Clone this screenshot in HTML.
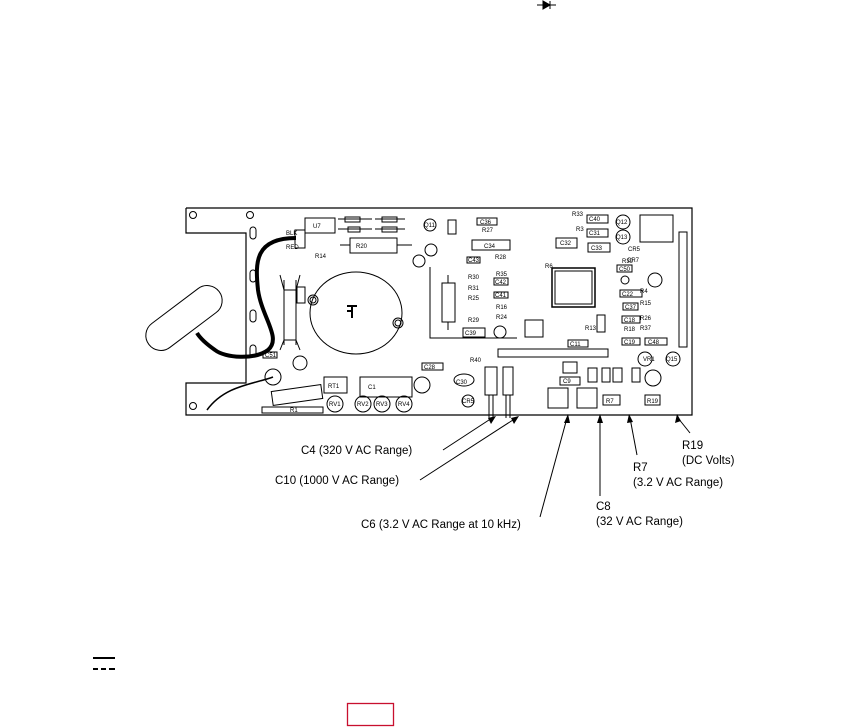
<!DOCTYPE html>
<html><head><meta charset="utf-8"><style>
html,body{margin:0;padding:0;background:#fff;}
svg{display:block;}
text{font-family:"Liberation Sans",Arial,sans-serif;}
</style></head><body>
<svg width="861" height="727" viewBox="0 0 861 727" xmlns="http://www.w3.org/2000/svg">
<rect width="861" height="727" fill="#fff"/>
<g stroke="#000" stroke-width="1" fill="#000">
<line x1="537" y1="5" x2="556" y2="5"/><polygon points="543,1 543,9 550,5"/><line x1="550" y1="1" x2="550" y2="9"/>
</g>
<g fill="none" stroke="#000" stroke-width="1.2">
<polyline points="186,208 692,208 692,415 186,415 186,383 246,383 246,233 186,233 186,208"/>
</g>
<g fill="none" stroke="#000" stroke-width="1">
<circle cx="193" cy="215" r="3.5"/><circle cx="250" cy="215" r="3.5"/><circle cx="193" cy="406" r="3.5"/>
<rect x="250" y="227" width="6" height="12" rx="3"/><rect x="250" y="270" width="6" height="12" rx="3"/><rect x="250" y="310" width="6" height="12" rx="3"/><rect x="250" y="345" width="6" height="12" rx="3"/>
<rect x="305" y="218" width="30" height="15"/>
<rect x="295" y="230" width="10" height="18"/>
<rect x="345" y="217" width="15" height="5"/><rect x="348" y="227" width="12" height="5"/>
<rect x="382" y="217" width="15" height="5"/><rect x="382" y="227" width="15" height="5"/>
<line x1="338" y1="219" x2="372" y2="219"/><line x1="338" y1="229" x2="372" y2="229"/>
<line x1="375" y1="219" x2="405" y2="219"/><line x1="375" y1="229" x2="405" y2="229"/>
<rect x="350" y="238" width="47" height="15"/><line x1="340" y1="245" x2="350" y2="245"/><line x1="397" y1="245" x2="412" y2="245"/>
<circle cx="430" cy="225" r="6"/><rect x="448" y="220" width="8" height="14"/>
<circle cx="431" cy="250" r="6"/><circle cx="419" cy="261" r="6"/>
<rect x="477" y="218" width="20" height="7"/><rect x="472" y="240" width="38" height="10"/>
<rect x="467" y="257" width="13" height="6"/><rect x="494" y="278" width="14" height="7"/><rect x="494" y="292" width="14" height="6"/>
<rect x="463" y="328" width="22" height="9"/><circle cx="500" cy="332" r="6"/><rect x="525" y="320" width="18" height="17"/>
<polyline points="430,267 430,338 517,338"/>
<rect x="442" y="283" width="13" height="39"/><line x1="448" y1="275" x2="448" y2="283"/><line x1="448" y1="322" x2="448" y2="330"/>
<rect x="552" y="268" width="43" height="39" stroke-width="1.5"/><rect x="555" y="271" width="37" height="33"/>
<rect x="587" y="215" width="21" height="8"/><rect x="587" y="229" width="21" height="8"/><rect x="556" y="238" width="21" height="10"/><rect x="588" y="243" width="22" height="9"/>
<circle cx="623" cy="222" r="7"/><circle cx="623" cy="237" r="7"/>
<rect x="640" y="215" width="33" height="27"/>
<rect x="679" y="232" width="8" height="115"/>
<rect x="617" y="265" width="15" height="7"/><circle cx="625" cy="280" r="4"/><circle cx="655" cy="280" r="7"/>
<rect x="620" y="290" width="22" height="7"/><rect x="623" y="303" width="15" height="7"/><rect x="622" y="316" width="18" height="7"/>
<rect x="622" y="338" width="18" height="7"/><rect x="645" y="338" width="22" height="7"/>
<rect x="597" y="315" width="8" height="17"/><rect x="568" y="340" width="20" height="7"/>
<rect x="498" y="349" width="110" height="8"/>
<rect x="563" y="362" width="14" height="11"/><rect x="560" y="377" width="20" height="8"/>
<rect x="548" y="388" width="20" height="20"/><rect x="577" y="388" width="20" height="20"/>
<rect x="603" y="395" width="17" height="10"/><rect x="645" y="395" width="15" height="10"/>
<rect x="588" y="368" width="9" height="14"/><rect x="602" y="368" width="8" height="14"/><rect x="613" y="368" width="9" height="14"/><rect x="632" y="368" width="8" height="14"/>
<circle cx="653" cy="378" r="8"/><circle cx="645" cy="359" r="7"/><circle cx="673" cy="359" r="7"/>
<rect x="485" y="367" width="12" height="28"/><rect x="503" y="367" width="10" height="28"/>
<line x1="489" y1="395" x2="489" y2="418"/><line x1="493" y1="395" x2="493" y2="418"/>
<line x1="506" y1="395" x2="506" y2="418"/><line x1="510" y1="395" x2="510" y2="418"/>
<ellipse cx="464" cy="380" rx="10" ry="6"/><circle cx="468" cy="401" r="6"/>
<rect x="422" y="363" width="21" height="7"/>
<rect x="360" y="377" width="52" height="20"/><circle cx="422" cy="385" r="8"/>
<circle cx="335" cy="404" r="8"/><circle cx="363" cy="404" r="8"/><circle cx="382" cy="404" r="8"/><circle cx="404" cy="404" r="8"/>
<rect x="324" y="377" width="23" height="16"/>
<rect x="272" y="388" width="50" height="14" transform="rotate(-8 297 395)"/>
<rect x="262" y="407" width="61" height="6"/>
<circle cx="300" cy="363" r="7"/><circle cx="273" cy="377" r="8"/>
<rect x="263" y="352" width="14" height="6"/><rect x="297" y="287" width="8" height="16"/>
<line x1="284" y1="280" x2="284" y2="345"/><line x1="296" y1="280" x2="296" y2="345"/>
<line x1="284" y1="290" x2="296" y2="290"/><line x1="284" y1="340" x2="296" y2="340"/>
<path d="M280,275 L284,290 M300,275 L296,290 M280,350 L284,340 M300,350 L296,340"/>
<ellipse cx="356" cy="313" rx="46" ry="41"/>
<circle cx="313" cy="300" r="5"/><circle cx="313" cy="300" r="3"/>
<circle cx="398" cy="323" r="5"/><circle cx="398" cy="323" r="3"/>
<path d="M347,306 h10 M352,306 v12 M352,311 h-5" stroke-width="2"/>
<!-- blob -->
<rect x="140" y="303" width="88" height="30" rx="15" transform="rotate(-37 184 318)" fill="#fff"/>
<line x1="443" y1="450" x2="492" y2="418"/><line x1="420" y1="480" x2="516" y2="418"/>
<line x1="540" y1="517" x2="567" y2="418"/><line x1="600" y1="496" x2="600" y2="418"/>
<line x1="637" y1="455" x2="630" y2="418"/><line x1="690" y1="433" x2="678" y2="418"/>
</g>
<g fill="#000">
<polygon points="496,416 488,418 491,424"/><polygon points="519,416 511,418 514,424"/>
<polygon points="568,414 564,423 570,423"/><polygon points="600,414 597,423 603,423"/>
<polygon points="629,414 627,423 633,422"/><polygon points="677,414 675,423 681,421"/>
</g>
<path d="M296,238 C255,238 255,262 258,290 C262,318 282,338 268,350 C255,360 225,358 215,350 C205,343 200,338 197,333" fill="none" stroke="#000" stroke-width="4"/>
<path d="M273,377 C255,384 225,385 207,410" fill="none" stroke="#000" stroke-width="1.5"/>
<g font-size="6" fill="#000">
<text x="286" y="235">BLK</text><text x="286" y="249">RED</text><text x="313" y="228">U7</text>
<text x="315" y="258">R14</text><text x="356" y="248">R20</text>
<text x="480" y="224">C36</text><text x="482" y="232">R27</text><text x="484" y="248">C34</text><text x="468" y="262">C43</text>
<text x="495" y="259">R28</text><text x="468" y="279">R30</text><text x="468" y="290">R31</text><text x="468" y="300">R25</text>
<text x="496" y="276">R35</text><text x="495" y="284">C42</text><text x="495" y="297">C41</text><text x="496" y="309">R16</text><text x="496" y="319">R24</text>
<text x="468" y="322">R29</text><text x="465" y="335">C39</text><text x="470" y="362">R40</text><text x="424" y="369">C28</text>
<text x="572" y="216">R33</text><text x="576" y="231">R3</text><text x="589" y="221">C40</text><text x="589" y="235">C31</text>
<text x="560" y="245">C32</text><text x="591" y="250">C33</text><text x="545" y="268">R6</text>
<text x="622" y="263">R39</text><text x="619" y="271">C50</text><text x="622" y="296">C22</text><text x="640" y="293">R4</text>
<text x="640" y="305">R15</text><text x="625" y="309">C37</text><text x="640" y="320">R26</text><text x="640" y="330">R37</text>
<text x="624" y="322">C18</text><text x="624" y="331">R18</text><text x="624" y="344">C19</text><text x="648" y="344">C48</text>
<text x="585" y="330">R13</text><text x="570" y="346">C11</text><text x="563" y="383">C9</text>
<text x="606" y="403">R7</text><text x="647" y="403">R19</text><text x="628" y="251">CR5</text><text x="627" y="262">CR7</text>
<text x="368" y="389">C1</text><text x="328" y="388">RT1</text><text x="290" y="412">R1</text>
<text x="329" y="406">RV1</text><text x="357" y="406">RV2</text><text x="376" y="406">RV3</text><text x="398" y="406">RV4</text>
<text x="265" y="357">C51</text><text x="456" y="384">C30</text><text x="462" y="403">CR5</text>
<text x="643" y="361">VR1</text><text x="666" y="361">Q15</text><text x="424" y="227">Q11</text>
<text x="616" y="224">Q12</text><text x="616" y="239">Q13</text>
</g>
<g font-size="11.5" fill="#000">
<text x="301" y="454">C4 (320 V AC Range)</text>
<text x="275" y="484">C10 (1000 V AC Range)</text>
<text x="361" y="528">C6 (3.2 V AC Range at 10 kHz)</text>
<text x="596" y="510">C8</text>
<text x="596" y="525">(32 V AC Range)</text>
<text x="633" y="471">R7</text>
<text x="633" y="486">(3.2 V AC Range)</text>
<text x="682" y="449">R19</text>
<text x="682" y="464">(DC Volts)</text>
</g>
<rect x="93" y="657" width="22" height="2" fill="#000"/>
<g fill="#000"><rect x="93" y="668" width="5" height="2"/><rect x="101" y="668" width="5" height="2"/><rect x="109" y="668" width="6" height="2"/></g>
<rect x="347.5" y="703.5" width="46" height="22" fill="none" stroke="#c8102e" stroke-width="1.3"/>
</svg>
</body></html>
